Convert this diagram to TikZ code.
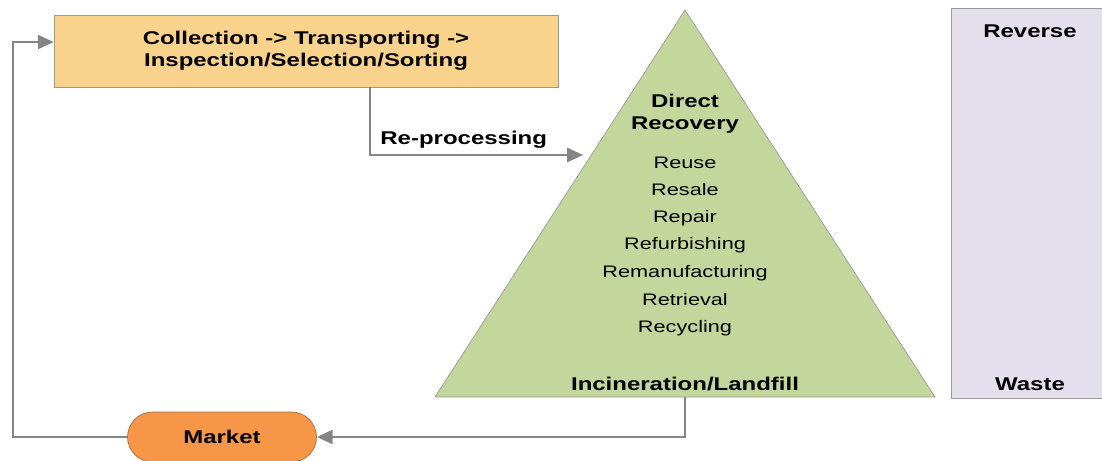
\documentclass[tikz,border=0pt]{standalone}
\usepackage{fontspec}
\setmainfont[FakeStretch=1.3]{Liberation Sans}
\usetikzlibrary{arrows.meta,shapes.misc}

\definecolor{boxorange}{HTML}{F9D28C}
\definecolor{pillorange}{HTML}{F79646}
\definecolor{pyrgreen}{HTML}{C3D69B}
\definecolor{wastepurple}{HTML}{E4DFEC}
\definecolor{linegray}{HTML}{858585}

\tikzset{
	flow/.style={draw=linegray, line width=1.3pt, -{Triangle[length=9pt,width=8pt]}},
	head/.style={font=\fontsize{10.5}{12.5}\selectfont\bfseries, align=center, inner sep=0pt},
	item/.style={font=\fontsize{9.5}{11}\selectfont, inner sep=0pt}
}

\begin{document}
\begin{tikzpicture}[x=0.02cm, y=-0.02cm]
	\useasboundingbox (0,0) rectangle (1102,460);
	% reverse / waste band
	\fill[wastepurple, draw=gray!80] (951,8) rectangle (1106,398);
	\node[head] (rev) at (1030, 31) {Reverse};
	\node[head] (waste) at (1030, 384) {Waste};
	% recovery pyramid
	\coordinate (top) at (685, 10);
	\coordinate (bl) at (435, 397);
	\coordinate (br) at (935, 397);
	\fill[pyrgreen, draw=gray!80] (top) -- (br) -- (bl) -- cycle;
	\node[head] (dr) at (685, 114) {Direct\\Recovery};
	\node[item] (i1) at (685, 163) {Reuse};
	\node[item] (i2) at (685, 190) {Resale};
	\node[item] (i3) at (685, 218) {Repair};
	\node[item] (i4) at (685, 245) {Refurbishing};
	\node[item] (i5) at (685, 273) {Remanufacturing};
	\node[item] (i6) at (685, 300) {Retrieval};
	\node[item] (i7) at (685, 328) {Recycling};
	\node[head] (inc) at (685, 384) {Incineration/Landfill};
	% collection box and market
	\node[head, draw=gray!80, fill=boxorange, minimum width=10.08cm, minimum height=1.44cm] (box) at (306, 51) {Collection -> Transporting ->\\Inspection/Selection/Sorting};
	\node[head, draw=pillorange!70!black, fill=pillorange, rounded rectangle, minimum width=3.78cm, minimum height=1.0cm] (mkt) at (222, 437) {Market};
	% connectors
	\coordinate (rp) at (583, 155);
	\coordinate (base) at (685, 397);
	\coordinate (lc) at (13, 42);
	\draw[flow] (box.south -| 370,0) |- (rp) node[pos=0.72, above=3pt, head] (rplab) {Re-processing};
	\draw[flow] (base) |- (mkt.east);
	\draw[flow] (mkt.west) -| (lc) -- (box.west |- lc);
\end{tikzpicture}
\end{document}
